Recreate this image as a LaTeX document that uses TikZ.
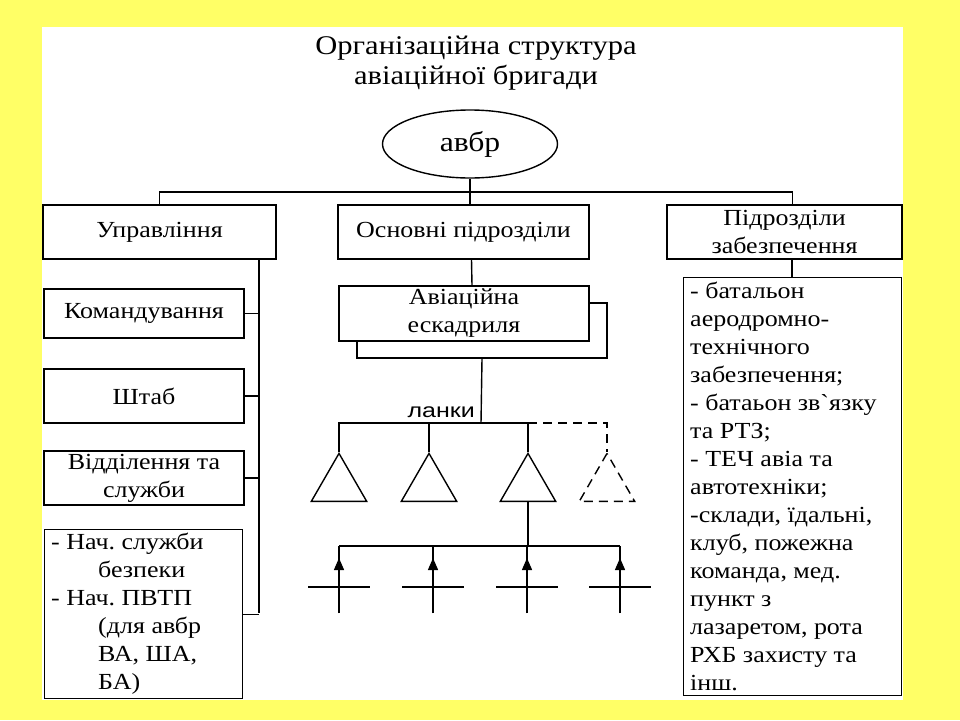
\documentclass[tikz,border=0pt]{standalone}
\usepackage{fontspec}
\setmainfont{Liberation Serif}[FakeStretch=1.13]
\newfontfamily\plainserif{Liberation Serif}[FakeStretch=1.13]
\newfontfamily\lankafont{Liberation Sans}[FakeStretch=1.25]
\usetikzlibrary{arrows.meta,shapes.geometric,positioning}
\definecolor{slideyellow}{RGB}{255,255,102}

\begin{document}
\frenchspacing
\begin{tikzpicture}[x=1pt,y=-1pt,
	box/.style={draw,line width=1.4pt,fill=white,inner sep=2pt,align=center,font=\fontsize{23}{28}\selectfont},
	listbox/.style={box,align=flush left,anchor=north west,inner xsep=6.5pt,inner ysep=1pt},
	link/.style={line width=1.4pt},
	wing/.style={draw,line width=1.4pt,regular polygon,regular polygon sides=3,minimum size=64pt,inner sep=0pt,anchor=north}]
\fill[slideyellow] (0,0) rectangle (960,720);
\fill[white] (42,27) rectangle (903,700);
\node[font=\fontsize{27}{30}\selectfont,align=center] (title) at (476,63) {Організаційна структура\\авіаційної бригади};
\node[draw,ellipse,line width=1.4pt,minimum width=175pt,minimum height=68pt,font=\fontsize{28}{32}\selectfont] (brig) at (470,144) {авбр};
\node[box,minimum width=233pt,minimum height=54pt] (upr) at (159.5,232) {Управління};
\node[box,minimum width=251pt,minimum height=54pt] (osn) at (463.5,232) {Основні підрозділи};
\node[box,minimum width=235pt,minimum height=54pt] (zab) at (784.5,232) {Підрозділи\\забезпечення};
\coordinate (bus) at (470,192);
\draw[link] (brig.south) -- (brig.south |- osn.north);
\draw[link] (upr.north) |- (bus) -| ([xshift=8pt]zab.north);
\node[box,minimum width=200pt,minimum height=49pt] (kom) at (144,313.5) {Командування};
\node[box,minimum width=200pt,minimum height=54pt] (shtab) at (144,396) {Штаб};
\node[box,minimum width=200pt,minimum height=54pt] (viddil) at (144,478) {Відділення та\\служби};
\node[listbox,text width=185pt,minimum height=169pt] (nach) at (44,529) {- Нач. служби\\\hspace*{47pt}безпеки\\- Нач. ПВТП\\\hspace*{47pt}(для авбр\\\hspace*{47pt}ВА, ША,\\\hspace*{47pt}БА)};
\coordinate (spine) at (259,613);
\draw[link] (upr.south -| spine) -- (spine);
\foreach \n in {kom,shtab,viddil,nach}
	\draw[link] (\n.east) -- (\n.east -| spine);
\node[box,minimum width=250pt,minimum height=55pt] (escback) at (482,330.5) {};
\node[box,minimum width=250pt,minimum height=55pt] (esc) at (464,313.5) {Авіаційна\\ескадриля};
\draw[link] ([xshift=8pt]osn.south) -- ([xshift=8pt]esc.north);
\coordinate (lanky) at (481,423);
\node[font=\lankafont\fontsize{20}{24}\selectfont,anchor=south east,inner sep=1pt] (lankylabel) at (476,419) {ланки};
\draw[link] (escback.south) -- (lanky);
\node[wing] (tri1) at (339,452) {};
\node[wing] (tri2) at (429,452) {};
\node[wing] (tri3) at (528,452) {};
\node[wing,dashed,dash pattern=on 9pt off 6pt] (tri4) at (607,452) {};
\draw[link] (tri1.north) |- (lanky) -| (tri3.north);
\draw[link] (tri2.north) -- (tri2.north |- lanky);
\draw[link,dash pattern=on 9pt off 6pt] (tri3.north |- lanky) -| (tri4.north);
\foreach \i/\x in {1/339,2/433,3/527,4/620}{
	\coordinate (plane\i) at (\x,546);
	\coordinate (foot\i) at (\x,613);
	\draw[link] (foot\i) -- (plane\i);
	\draw[link,-{Triangle[width=10pt,length=12pt]}] (foot\i) -- (\x,558);
	\draw[link] (\x-31,587) -- (\x+31,587);
}
\draw[link] (tri3.south) -- (tri3.south |- plane3);
\draw[link] (plane1) -- (plane4);
\draw[link] (zab.south -| 792,0) -- (792,277);
\node[listbox,text width=205pt,minimum height=418pt] (supply) at (683,277) {- батальон\\аеродромно-\\технічного\\забезпечення;\\- батаьон зв{\plainserif`}язку\\та РТЗ;\\- ТЕЧ авіа та\\автотехніки;\\-склади, їдальні,\\клуб, пожежна\\команда, мед.\\пункт з\\лазаретом, рота\\РХБ захисту та\\інш.};
\end{tikzpicture}
\end{document}
